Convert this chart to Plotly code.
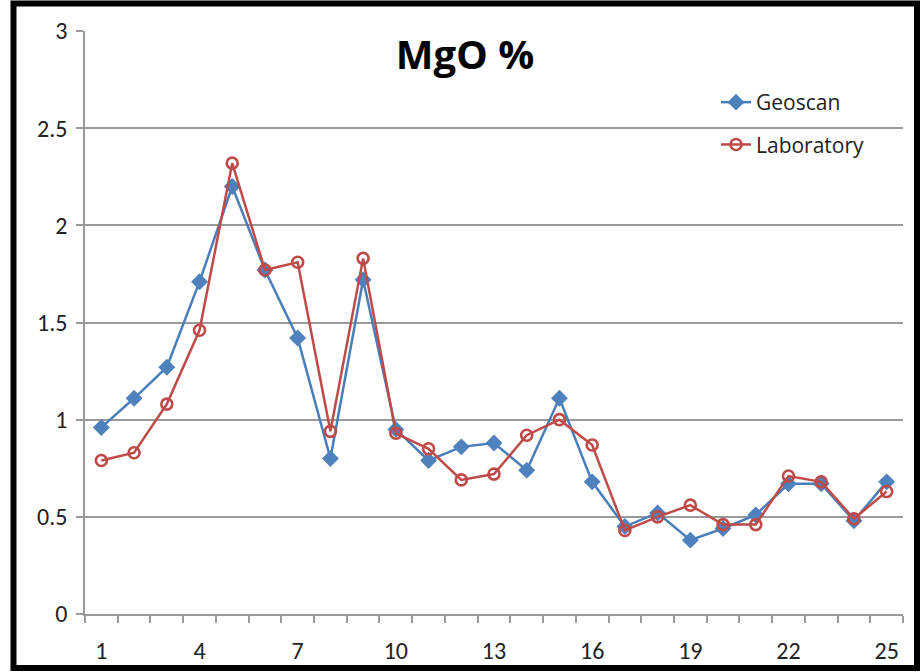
import plotly.graph_objects as go

# Sample numbers along the profile
samples = list(range(1, 26))

# MgO content (%) measured by each method
geoscan = [0.96, 1.11, 1.27, 1.71, 2.20, 1.77, 1.42, 0.80, 1.72, 0.95,
           0.79, 0.86, 0.88, 0.74, 1.11, 0.68, 0.45, 0.52, 0.38, 0.44,
           0.51, 0.67, 0.67, 0.48, 0.68]
laboratory = [0.79, 0.83, 1.08, 1.46, 2.32, 1.77, 1.81, 0.94, 1.83, 0.93,
              0.85, 0.69, 0.72, 0.92, 1.00, 0.87, 0.43, 0.50, 0.56, 0.46,
              0.46, 0.71, 0.68, 0.49, 0.63]

x_labels = [1, 4, 7, 10, 13, 16, 19, 22, 25]
y_ticks = [0, 0.5, 1, 1.5, 2, 2.5, 3]

FONT = "Carlito, Lato, sans-serif"
WIDE_FONT = "Open Sans, sans-serif"
BLUE = "#4A7EBB"
BLUE_FILL = "#4F81BD"
RED = "#BE4B48"
GRID = "#9A9A9A"

W, H = 920, 672
ML, MR, MT, MB = 85, 17, 31, 58
PW, PH = W - ML - MR, H - MT - MB


def px_x(p):
    return (p - ML) / PW


def px_y(p):
    return (H - MB - p) / PH


fig = go.Figure()
fig.add_trace(go.Scatter(
    x=samples, y=geoscan, name="Geoscan", mode="lines+markers",
    legendgroup="g",
    line=dict(color=BLUE, width=2.5),
    marker=dict(symbol="diamond", size=13, color=BLUE_FILL),
))
fig.add_trace(go.Scatter(
    x=samples, y=laboratory, name="Laboratory", mode="lines+markers",
    legendgroup="l",
    line=dict(color=RED, width=2.5),
    marker=dict(symbol="circle-open", size=11, color=RED,
                line=dict(color=RED, width=2.6)),
))

fig.update_layout(
    width=W, height=H,
    margin=dict(l=ML, r=MR, t=MT, b=MB, autoexpand=False),
    paper_bgcolor="white", plot_bgcolor="white",
    font=dict(family=FONT, color="#000000"),
    title=dict(text="<b>MgO %</b>", font=dict(family=WIDE_FONT, size=40, color="#000"),
               xref="paper", x=px_x(465), xanchor="center",
               yref="container", y=1 - 55 / H, yanchor="middle"),
    legend=dict(x=px_x(716), y=px_y(82), xanchor="left", yanchor="top",
                bgcolor="rgba(0,0,0,0)", font=dict(family=WIDE_FONT, size=21, color="#222"),
                tracegroupgap=12),
    showlegend=True,
    shapes=[dict(type="rect", xref="paper", yref="paper",
                 x0=px_x(13.5), x1=px_x(917), y0=px_y(668), y1=px_y(3.5),
                 line=dict(color="black", width=6), layer="above")],
)

fig.update_xaxes(
    range=[0.5, 25.5], tickvals=x_labels, ticktext=[str(v) for v in x_labels],
    ticks="", showgrid=False, zeroline=False, automargin=False,
    showline=True, linecolor=GRID, linewidth=1.5,
    tickfont=dict(family=FONT, size=24, color="#222"),
    ticklabelstandoff=14,
    minor=dict(ticks="outside", tick0=0.5, dtick=1, ticklen=7,
               tickcolor=GRID, tickwidth=1.5, showgrid=False),
)
fig.update_yaxes(
    range=[0, 3], tickvals=y_ticks, ticktext=[f"{v:g}" for v in y_ticks],
    ticks="outside", ticklen=7, tickcolor=GRID, tickwidth=1.5,
    showgrid=True, gridcolor=GRID, gridwidth=1.5, zeroline=False,
    showline=True, linecolor=GRID, linewidth=1.5, automargin=False,
    tickfont=dict(family=FONT, size=24, color="#222"),
    ticklabelstandoff=4,
)

fig.write_html("out.html")
